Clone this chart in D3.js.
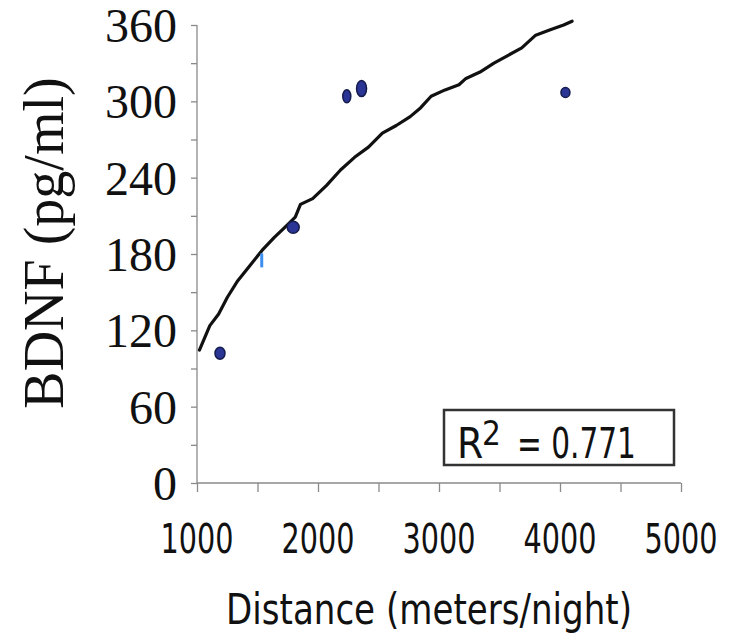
<!DOCTYPE html>
<html lang="en">
<head>
<meta charset="utf-8">
<title>BDNF vs distance</title>
<script src="https://d3js.org/d3.v7.min.js"></script>
<style>
  body { margin: 0; background: #fff; }
  svg { display: block; }
  .serif { font-family: "Liberation Serif", "Times New Roman", serif; fill: #111; }
  .sans { font-family: "DejaVu Sans Condensed", "DejaVu Sans", sans-serif; font-stretch: condensed; fill: #111; }
</style>
</head>
<body>
<div id="chart"></div>
<script>
// values
var xTicks = [1000, 2000, 3000, 4000, 5000];
var xMinorTicks = [1000, 1500, 2000, 2500, 3000, 3500, 4000, 4500, 5000];
var yTicks = [0, 60, 120, 180, 240, 300, 360];
var yMinorTicks = [0, 30, 60, 90, 120, 150, 180, 210, 240, 270, 300, 330, 360];

var pointX = [1190, 1795, 2238, 2360, 4045];
var pointY = [102, 201, 304, 310, 307];
var pointRx = [5, 6, 4, 5, 4.5];
var pointRy = [6, 6, 6.5, 8, 5];

// faint light-blue mark
var dashX = [1535];
var dashY = [175];

// trend line as drawn
var fitX = [1020, 1106, 1179, 1251, 1337, 1438, 1539, 1639, 1726, 1812, 1855, 1956, 2071, 2186,
            2302, 2417, 2532, 2647, 2762, 2849, 2935, 3050, 3165, 3223, 3339, 3454, 3568, 3684,
            3799, 3914, 4030, 4100];
var fitY = [104.5, 123.7, 132.9, 146, 159, 171, 183, 193, 201, 209, 219, 223.5, 234, 246,
            256, 264, 275, 281, 288, 295, 304, 309, 313, 318, 323, 330, 336, 342,
            352, 356, 360, 363];

var r2Label = "0.771";

var width = 730, height = 634;

var svg = d3.select("#chart").append("svg")
    .attr("width", width)
    .attr("height", height);

var x = d3.scaleLinear().domain([1000, 5000]).range([197, 681]);
var y = d3.scaleLinear().domain([0, 360]).range([483, 25]);

// squeeze a text horizontally to a given width (narrow fonts in the original)
function squeeze(sel, w) {
    sel.each(function() {
        var t = d3.select(this);
        var natural = this.getComputedTextLength();
        var k = natural > 0 ? w / natural : 1;
        t.attr("transform", t.attr("data-at") + " scale(" + k + ",1)");
    });
}

// x axis
var xAxis = svg.append("g")
    .attr("transform", "translate(0," + y(0) + ")")
    .call(d3.axisBottom(x).tickValues(xMinorTicks).tickSize(9).tickFormat(""));
xAxis.selectAll("path, line").attr("stroke", "#8a8a8a").attr("stroke-width", 1.3);
xAxis.select("path").attr("d", "M" + x(1000) + ",0H" + x(5000));

svg.append("g").selectAll("text")
    .data(xTicks)
  .enter().append("text")
    .attr("class", "sans")
    .attr("data-at", function(d) { return "translate(" + x(d) + ",553)"; })
    .attr("text-anchor", "middle")
    .attr("font-size", 41)
    .text(function(d) { return d; })
    .call(squeeze, 73);

// y axis
var yAxis = svg.append("g")
    .attr("transform", "translate(" + x(1000) + ",0)")
    .call(d3.axisLeft(y).tickValues(yMinorTicks).tickSize(6).tickFormat(""));
yAxis.selectAll("path, line").attr("stroke", "#8a8a8a").attr("stroke-width", 1.3);
yAxis.select("path").attr("d", "M0," + y(360) + "V" + y(0));

svg.append("g").selectAll("text")
    .data(yTicks)
  .enter().append("text")
    .attr("class", "serif")
    .attr("x", 177)
    .attr("y", function(d) { return y(d) + 17; })
    .attr("text-anchor", "end")
    .attr("font-size", 48)
    .text(function(d) { return d; });

// axis titles
svg.append("text")
    .attr("class", "serif")
    .attr("transform", "translate(63,243) rotate(-90)")
    .attr("text-anchor", "middle")
    .attr("font-size", 56)
    .text("BDNF (pg/ml)");

svg.append("text")
    .attr("class", "sans")
    .attr("data-at", "translate(429,624)")
    .attr("text-anchor", "middle")
    .attr("font-size", 43)
    .text("Distance (meters/night)")
    .call(squeeze, 406);

// trend line
var line = d3.line()
    .x(function(d, i) { return x(fitX[i]); })
    .y(function(d, i) { return y(fitY[i]); });

svg.append("path")
    .datum(fitX)
    .attr("d", line)
    .attr("fill", "none")
    .attr("stroke", "#111")
    .attr("stroke-width", 3.2)
    .attr("stroke-linejoin", "round")
    .attr("stroke-linecap", "round");

// points
svg.append("g").selectAll("ellipse")
    .data(pointX)
  .enter().append("ellipse")
    .attr("cx", function(d) { return x(d); })
    .attr("cy", function(d, i) { return y(pointY[i]); })
    .attr("rx", function(d, i) { return pointRx[i]; })
    .attr("ry", function(d, i) { return pointRy[i]; })
    .attr("fill", "#2a3596")
    .attr("stroke", "#151b4d")
    .attr("stroke-width", 1.5);

svg.append("g").selectAll("rect")
    .data(dashX)
  .enter().append("rect")
    .attr("x", function(d) { return x(d) - 1.5; })
    .attr("y", function(d, i) { return y(dashY[i]) - 7; })
    .attr("width", 3)
    .attr("height", 14)
    .attr("fill", "#3d8fef");

// R squared box
var box = svg.append("g");
box.append("rect")
    .attr("x", 444)
    .attr("y", 410)
    .attr("width", 230)
    .attr("height", 55)
    .attr("fill", "#fff")
    .attr("stroke", "#333")
    .attr("stroke-width", 2.5);
box.append("text")
    .attr("class", "sans")
    .attr("x", 457)
    .attr("y", 458)
    .attr("font-size", 42)
    .text("R");
box.append("text")
    .attr("class", "sans")
    .attr("x", 482)
    .attr("y", 445)
    .attr("font-size", 33)
    .text("2");
box.append("text")
    .attr("class", "sans")
    .attr("data-at", "translate(517,458)")
    .attr("font-size", 42)
    .text("= " + r2Label)
    .call(squeeze, 119);
</script>
</body>
</html>
